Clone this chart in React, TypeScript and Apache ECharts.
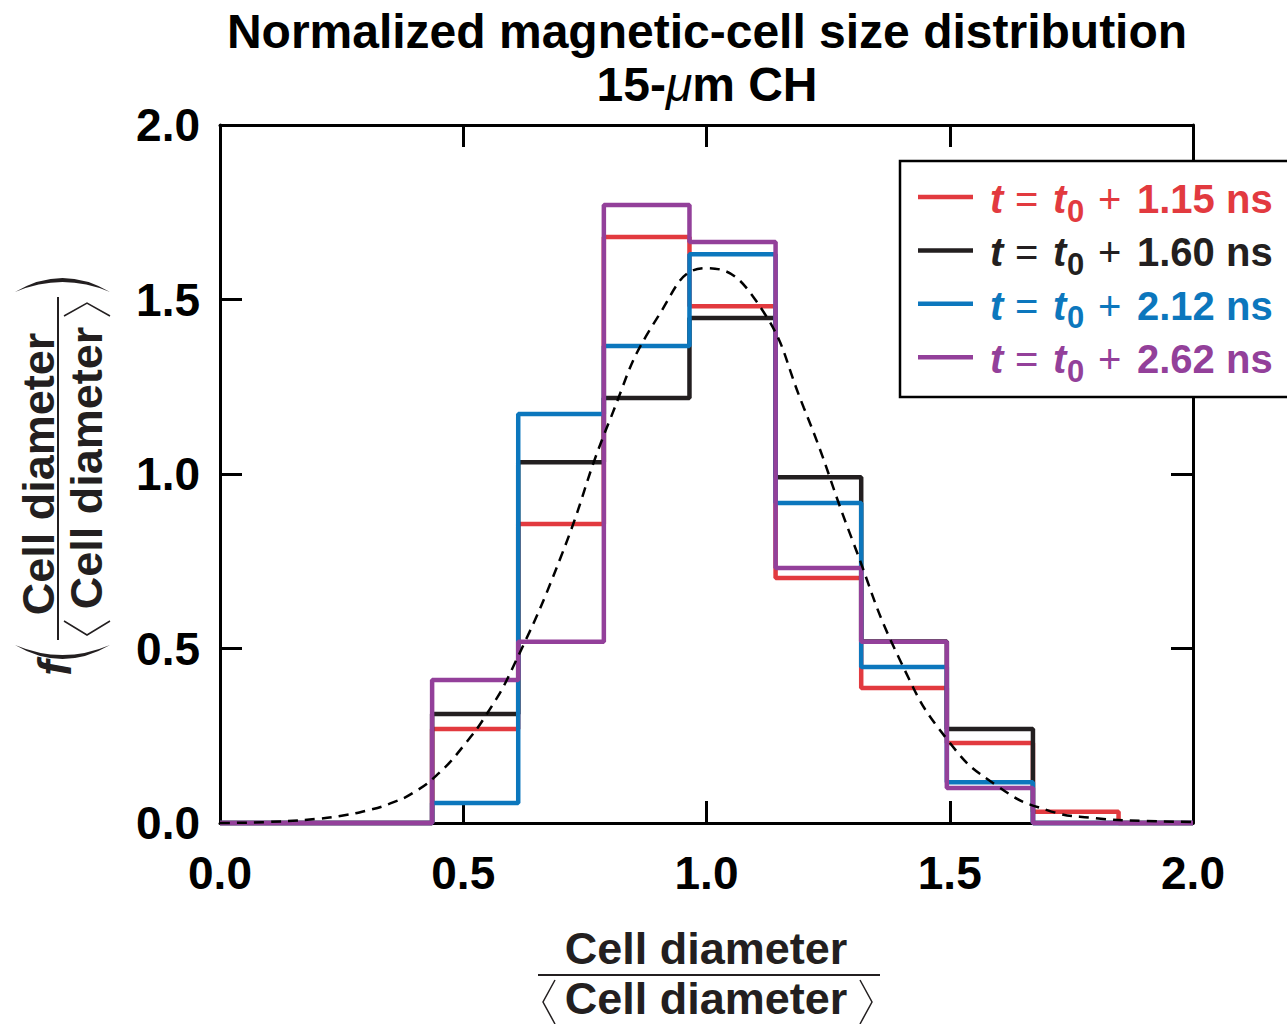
import React, { useEffect, useRef } from "react";
import * as echarts from "echarts";

// ---------- data ----------
const binEdges = [0.436, 0.613, 0.789, 0.965, 1.142, 1.318, 1.494, 1.671, 1.847];
const red115 = [0.269, 0.857, 1.679, 1.481, 0.702, 0.387, 0.229, 0.032];
const black160 = [0.312, 1.034, 1.218, 1.447, 0.991, 0.52, 0.269, 0];
const blue212 = [0.057, 1.172, 1.367, 1.63, 0.917, 0.447, 0.117, 0];
const purple262 = [0.41, 0.519, 1.771, 1.665, 0.731, 0.519, 0.1, 0];

const curveX = [0, 0.1, 0.2, 0.25, 0.3, 0.35, 0.4, 0.45, 0.5, 0.55, 0.6, 0.7, 0.8, 0.9, 1.0, 1.1, 1.2, 1.3, 1.4, 1.5, 1.6, 1.7, 1.8, 1.9, 2.0];
const curveY = [0.0, 0.003, 0.012, 0.021, 0.035, 0.056, 0.089, 0.143, 0.22, 0.316, 0.44, 0.76, 1.15, 1.45, 1.59, 1.5, 1.19, 0.81, 0.46, 0.23, 0.104, 0.037, 0.014, 0.006, 0.003];

const legendTimes = ["1.15", "1.60", "2.12", "2.62"];
const seriesColors = ["#E23A3F", "#231F20", "#0C77BD", "#93409A"];
const seriesValues = [red115, black160, blue212, purple262];

const FONT = '"Liberation Sans", Arial, Helvetica, sans-serif';

function stepData(vals: number[]) {
  const d: number[][] = [[0, 0]];
  vals.forEach((v, i) => d.push([binEdges[i], v]));
  d.push([binEdges[binEdges.length - 1], 0]);
  d.push([2, 0]);
  return d;
}

export default function App() {
  const ref = useRef<HTMLDivElement>(null);

  useEffect(() => {
    if (!ref.current) return;
    echarts.graphic.registerShape(
      "parenTop",
      echarts.graphic.extendPath("M0,15 Q47.5,-13 95,15 Q47.5,-5 0,15 Z", {})
    );
    echarts.graphic.registerShape(
      "parenBottom",
      echarts.graphic.extendPath("M0,0 Q47.5,28 95,0 Q47.5,20 0,0 Z", {})
    );
    const chart = echarts.init(ref.current, null, { renderer: "svg" });

    const axisCommon = {
      type: "value" as const,
      min: 0,
      max: 2,
      interval: 0.5,
      splitLine: { show: false },
      axisLine: { show: true, onZero: false, lineStyle: { color: "#000", width: 3 } },
      axisTick: { show: true, inside: true, length: 22, lineStyle: { color: "#000", width: 3 } },
    };

    const labelStyle = {
      fontFamily: FONT,
      fontWeight: "bold" as const,
      fontSize: 46,
      color: "#000",
      formatter: (v: number) => v.toFixed(1),
    };

    const LZ = 100;
    const legendEls: any[] = [
      {
        type: "rect", z: LZ, zlevel: 1,
        shape: { x: 900, y: 161, width: 420, height: 236 },
        style: { fill: "#fff", stroke: "#000", lineWidth: 2.5 },
      },
    ];
    legendTimes.forEach((tm, i) => {
      const cy = 197 + i * 53.4;
      const c = seriesColors[i];
      const ty = cy + 2;
      const common = { z: LZ + 1, zlevel: 1 };
      legendEls.push(
        { ...common, type: "line", shape: { x1: 918, y1: cy, x2: 973, y2: cy }, style: { stroke: c, lineWidth: 4.5 } },
        { ...common, type: "text", x: 990, y: ty, style: { text: "t", fontFamily: FONT, fontStyle: "italic", fontWeight: "bold", fontSize: 40, fill: c, verticalAlign: "middle" } },
        { ...common, type: "text", x: 1015, y: ty, style: { text: "=", fontFamily: FONT, fontWeight: "normal", fontSize: 40, fill: c, verticalAlign: "middle" } },
        { ...common, type: "text", x: 1053, y: ty, style: { text: "t", fontFamily: FONT, fontStyle: "italic", fontWeight: "bold", fontSize: 40, fill: c, verticalAlign: "middle" } },
        { ...common, type: "text", x: 1067, y: ty + 12, style: { text: "0", fontFamily: FONT, fontWeight: "bold", fontSize: 31, fill: c, verticalAlign: "middle" } },
        { ...common, type: "text", x: 1098, y: ty, style: { text: "+", fontFamily: FONT, fontWeight: "normal", fontSize: 40, fill: c, verticalAlign: "middle" } },
        { ...common, type: "text", x: 1137, y: ty, style: { text: tm + " ns", fontFamily: FONT, fontWeight: "bold", fontSize: 40, fill: c, verticalAlign: "middle" } }
      );
    });

    const graphics: any[] = [
      // title
      {
        type: "text", x: 707, y: 31,
        style: { text: "Normalized magnetic-cell size distribution", fontFamily: FONT, fontWeight: "bold", fontSize: 48, fill: "#000", align: "center", verticalAlign: "middle" },
      },
      {
        type: "text", x: 707, y: 84,
        style: {
          text: "{a|15-}{mu|μ}{a|m CH}",
          fontFamily: FONT, fontWeight: "bold", fontSize: 48, fill: "#000", align: "center", verticalAlign: "middle",
          rich: {
            a: { fontFamily: FONT, fontWeight: "bold", fontSize: 48, fill: "#000" },
            mu: { fontFamily: FONT, fontStyle: "italic", fontWeight: "normal", fontSize: 48, fill: "#000" },
          },
        },
      },
      // x axis name (fraction)
      { type: "text", x: 706, y: 948, style: { text: "Cell diameter", fontFamily: FONT, fontWeight: "bold", fontSize: 45, fill: "#231F20", align: "center", verticalAlign: "middle" } },
      { type: "line", shape: { x1: 538, y1: 975, x2: 880, y2: 975 }, style: { stroke: "#231F20", lineWidth: 2 } },
      { type: "text", x: 706, y: 998, style: { text: "Cell diameter", fontFamily: FONT, fontWeight: "bold", fontSize: 45, fill: "#231F20", align: "center", verticalAlign: "middle" } },
      { type: "polyline", shape: { points: [[555, 980], [543, 1002], [555, 1024]] }, style: { stroke: "#231F20", lineWidth: 1.5, fill: null } },
      { type: "polyline", shape: { points: [[860, 980], [872, 1002], [860, 1024]] }, style: { stroke: "#231F20", lineWidth: 1.5, fill: null } },
      // y axis name f( fraction )
      { type: "text", x: 38, y: 474, rotation: Math.PI / 2, style: { text: "Cell diameter", fontFamily: FONT, fontWeight: "bold", fontSize: 45, fill: "#231F20", align: "center", verticalAlign: "middle" } },
      { type: "line", shape: { x1: 58, y1: 297, x2: 58, y2: 640 }, style: { stroke: "#231F20", lineWidth: 2 } },
      { type: "text", x: 86, y: 468, rotation: Math.PI / 2, style: { text: "Cell diameter", fontFamily: FONT, fontWeight: "bold", fontSize: 45, fill: "#231F20", align: "center", verticalAlign: "middle" } },
      { type: "polyline", shape: { points: [[64, 316], [87, 303], [110, 316]] }, style: { stroke: "#231F20", lineWidth: 1.5, fill: null } },
      { type: "polyline", shape: { points: [[64, 621], [87, 635], [110, 621]] }, style: { stroke: "#231F20", lineWidth: 1.5, fill: null } },
      { type: "parenTop", x: 15, y: 277, style: { fill: "#231F20" } },
      { type: "parenBottom", x: 15, y: 645, style: { fill: "#231F20" } },
      { type: "text", x: 55, y: 668, rotation: Math.PI / 2, style: { text: "f", fontFamily: FONT, fontStyle: "italic", fontWeight: "bold", fontSize: 46, fill: "#231F20", align: "center", verticalAlign: "middle" } },
      // legend
      ...legendEls,
    ];

    const histSeries = seriesValues.map((vals, i) => ({
      type: "line" as const,
      xAxisIndex: 0,
      yAxisIndex: 0,
      step: "end" as const,
      data: stepData(vals),
      symbol: "none",
      showSymbol: false,
      clip: false,
      silent: true,
      lineStyle: { color: seriesColors[i], width: 4.5 },
      z: 3 + i,
    }));

    chart.setOption({
      animation: false,
      backgroundColor: "#fff",
      grid: { left: 220, right: 94, top: 125, bottom: 201, containLabel: false },
      xAxis: [
        { ...axisCommon, position: "bottom", axisLabel: { ...labelStyle, margin: 27 } },
        { ...axisCommon, position: "top", axisLabel: { show: false } },
      ],
      yAxis: [
        { ...axisCommon, position: "left", axisLabel: { ...labelStyle, margin: 20 } },
        { ...axisCommon, position: "right", axisLabel: { show: false } },
      ],
      series: [
        ...histSeries,
        {
          type: "line",
          xAxisIndex: 0,
          yAxisIndex: 0,
          data: curveX.map((x, i) => [x, curveY[i]]),
          smooth: 0.5,
          symbol: "none",
          showSymbol: false,
          clip: false,
          silent: true,
          lineStyle: { color: "#000", width: 2.5, type: [10, 7] },
          z: 10,
        },
      ],
      graphic: graphics,
    });

    return () => chart.dispose();
  }, []);

  return (
    <div
      ref={ref}
      style={{ position: "fixed", left: 0, top: 0, width: 1287, height: 1024, background: "#fff" }}
    />
  );
}
